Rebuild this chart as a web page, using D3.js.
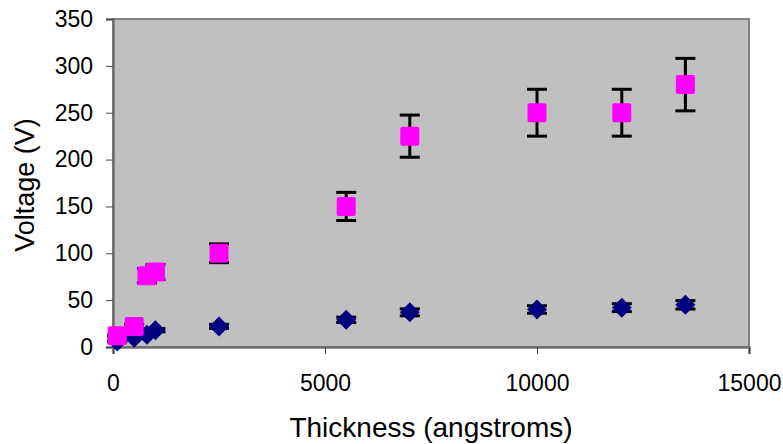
<!DOCTYPE html>
<html>
<head>
<meta charset="utf-8">
<script src="https://cdn.jsdelivr.net/npm/d3@7"></script>
<style>
  body { margin: 0; background: #fff; }
  svg text { font-family: "Liberation Sans", Arial, sans-serif; fill: #000; }
</style>
</head>
<body>
<div id="chart"></div>
<script>
// thickness (angstroms) for each series
const thicknessA = [100, 500, 800, 1000, 2500, 5500, 7000, 10000, 12000, 13500];
const voltageA = [12, 22, 76, 80, 100, 150, 225, 250, 250, 280];
const errorA = [1.2, 2.2, 7.6, 8, 10, 15, 22.5, 25, 25, 28];

const thicknessB = [100, 500, 800, 1000, 2500, 5500, 7000, 10000, 12000, 13500];
const voltageB = [6, 10, 13, 18, 22, 29, 37, 40, 42, 45];
const errorB = [0.6, 1, 1.3, 1.8, 2.2, 2.9, 3.7, 4, 4.2, 4.5];

const xTicks = [0, 5000, 10000, 15000];
const yTicks = [0, 50, 100, 150, 200, 250, 300, 350];

const W = 783, H = 444;
const margin = {top: 19, right: 34, bottom: 97, left: 113};
const width = W - margin.left - margin.right;
const height = H - margin.top - margin.bottom;

const svg = d3.select("#chart").append("svg")
    .attr("width", W).attr("height", H);

const g = svg.append("g").attr("transform", `translate(${margin.left},${margin.top})`);

const x = d3.scaleLinear().domain([0, 15000]).range([0, width]);
const y = d3.scaleLinear().domain([0, 350]).range([height, 0]);

// plot area
g.append("rect").attr("x", 0).attr("y", 0).attr("width", width).attr("height", height)
    .attr("fill", "#c0c0c0").attr("stroke", "#808080").attr("stroke-width", 2);

// axes
const xAxis = g.append("g").attr("transform", `translate(0,${height})`)
    .call(d3.axisBottom(x).tickValues(xTicks).tickSize(7).tickPadding(21).tickFormat(d3.format("d")));
const yAxis = g.append("g")
    .call(d3.axisLeft(y).tickValues(yTicks).tickSize(7).tickPadding(13));
[xAxis, yAxis].forEach(a => {
    a.select(".domain").attr("stroke", "#707070").attr("stroke-width", 2.5);
    a.selectAll(".tick line").attr("stroke", "#444");
    a.selectAll(".tick text").style("font-size", "23px");
});

// error bars
function errorBars(xs, ys, es, cap, w) {
    const eb = g.append("g").attr("stroke", "#000").attr("stroke-width", w);
    xs.forEach((t, i) => {
        const cx = x(t), y0 = y(ys[i] - es[i]), y1 = y(ys[i] + es[i]);
        eb.append("line").attr("x1", cx).attr("x2", cx).attr("y1", y0).attr("y2", y1);
        eb.append("line").attr("x1", cx - cap).attr("x2", cx + cap).attr("y1", y0).attr("y2", y0);
        eb.append("line").attr("x1", cx - cap).attr("x2", cx + cap).attr("y1", y1).attr("y2", y1);
    });
}

// navy diamonds
errorBars(thicknessB, voltageB, errorB, 10, 3);
g.append("g").selectAll("path").data(thicknessB).join("path")
    .attr("d", "M0,-10L10,0L0,10L-10,0Z")
    .attr("transform", (d, i) => `translate(${x(d)},${y(voltageB[i])})`)
    .attr("fill", "#000080");

// magenta squares
errorBars(thicknessA, voltageA, errorA, 10, 3);
g.append("g").selectAll("rect").data(thicknessA).join("rect")
    .attr("x", d => x(d) - 9.5).attr("y", (d, i) => y(voltageA[i]) - 9.5)
    .attr("width", 19).attr("height", 19).attr("rx", 2)
    .attr("fill", "#ff00ff");

// titles
svg.append("text").attr("x", 431).attr("y", 437).attr("text-anchor", "middle")
    .style("font-size", "28px").text("Thickness (angstroms)");
svg.append("text").attr("transform", "translate(34,185) rotate(-90)").attr("text-anchor", "middle")
    .style("font-size", "27px").text("Voltage (V)");
</script>
</body>
</html>
